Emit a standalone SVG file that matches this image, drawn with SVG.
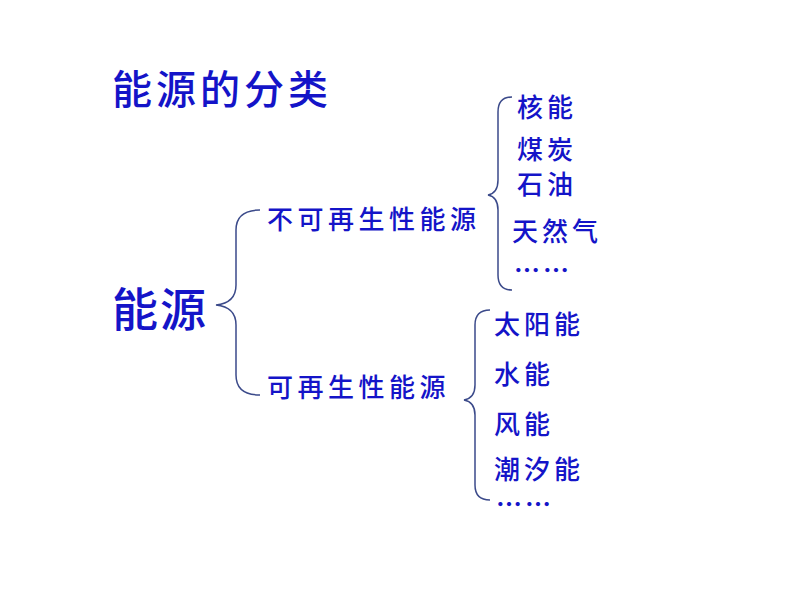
<svg xmlns="http://www.w3.org/2000/svg" width="794" height="596" viewBox="0 0 794 596">
<style>
text{font-family:"Noto Sans CJK SC","Liberation Sans",sans-serif;fill:#1414c8;font-weight:500}
.m{font-size:26px;letter-spacing:4.5px}
.i{font-size:26px;letter-spacing:4px}
.d{font-size:26px;letter-spacing:3px;font-weight:bold}
.b{fill:none;stroke:#3b4a8a;stroke-width:1.5}
</style>
<rect width="794" height="596" fill="#fff"/>
<g id="title"><text x="112" y="104" style="font-size:40px;letter-spacing:4px">能源的分类</text></g>
<g id="root"><text x="112" y="326" style="font-size:46px;letter-spacing:2px">能源</text></g>
<g id="connectors">
<path class="b" d="M260,210 Q236,210 236,230 L236,285 Q236,303 216,305 Q236,307 236,325 L236,375 Q236,395 260,395"/>
<path class="b" d="M512,97 Q498,97 498,112 L498,180 Q498,193 488,195 Q498,197 498,210 L498,275 Q498,290 512,290"/>
<path class="b" d="M490,310 Q475,310 475,325 L475,385 Q475,398 464,400 Q475,402 475,415 L475,485 Q475,500 490,500"/>
</g>
<g id="nonrenewable"><text class="m" x="267" y="229">不可再生性能源</text></g>
<g id="renewable"><text class="m" x="267" y="397">可再生性能源</text></g>
<g id="list1">
<text class="i" x="517" y="117">核能</text>
<text class="i" x="517" y="159">煤炭</text>
<text class="i" x="517" y="194">石油</text>
<text class="i" x="512" y="241">天然气</text>
<text class="d" x="514" y="280">……</text>
</g>
<g id="list2">
<text class="i" x="494" y="334">太阳能</text>
<text class="i" x="494" y="384">水能</text>
<text class="i" x="494" y="434">风能</text>
<text class="i" x="494" y="479">潮汐能</text>
<text class="d" x="496" y="514">……</text>
</g>
</svg>
